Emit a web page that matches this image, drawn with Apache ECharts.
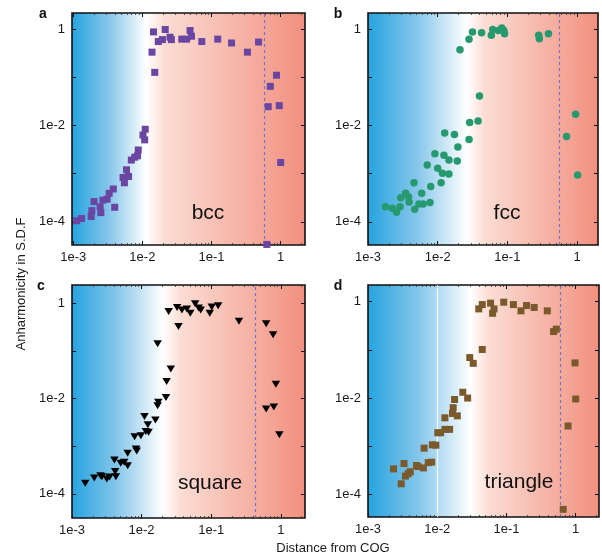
<!DOCTYPE html>
<html>
<head>
<meta charset="utf-8">
<script src="https://cdn.jsdelivr.net/npm/echarts@6/dist/echarts.min.js"></script>
<style>
  html, body { margin: 0; padding: 0; background: #fff; }
  #chart { width: 602px; height: 558px; }
</style>
</head>
<body>
<div id="chart"></div>
<script>
// ---- data (log-log panels) ----
const bccX = [1.12e-3,1.32e-3,1.82e-3,1.86e-3,2.0e-3,2.45e-3,2.51e-3,2.69e-3,3.09e-3,3.31e-3,3.80e-3,3.98e-3,5.25e-3,5.50e-3,5.89e-3,6.31e-3,6.92e-3,7.76e-3,8.51e-3,8.71e-3,1.02e-2,1.10e-2,1.08e-2,1.38e-2,1.45e-2,1.51e-2,1.70e-2,1.95e-2,2.14e-2,2.51e-2,2.63e-2,3.72e-2,4.37e-2,4.90e-2,5.13e-2,7.24e-2,0.123,0.195,0.331,0.479,0.631,0.661,0.708,0.871,0.955,1.0];
const bccY = [1.05e-4,1.17e-4,1.29e-4,1.70e-4,2.63e-4,2.04e-4,1.55e-4,2.82e-4,2.95e-4,3.89e-4,4.79e-4,2.0e-4,8.32e-4,6.46e-4,1.20e-3,8.71e-4,1.91e-3,2.19e-3,2.34e-3,3.09e-3,6.31e-3,8.32e-3,5.01e-3,0.331,0.871,0.126,0.550,0.603,0.977,0.676,0.603,0.617,0.617,0.933,0.708,0.550,0.617,0.513,0.331,0.537,3.39e-5,2.45e-2,6.46e-2,0.110,2.57e-2,1.70e-3];

const fccX = [1.78e-3,2.24e-3,2.57e-3,2.88e-3,2.95e-3,3.47e-3,3.80e-3,3.89e-3,4.68e-3,4.57e-3,5.37e-3,5.89e-3,6.17e-3,7.08e-3,7.76e-3,7.94e-3,9.12e-3,1.0e-2,1.12e-2,1.17e-2,1.23e-2,1.26e-2,1.45e-2,1.45e-2,1.74e-2,1.91e-2,1.95e-2,2.09e-2,2.82e-2,2.88e-2,2.82e-2,3.16e-2,3.80e-2,3.98e-2,4.27e-2,5.89e-2,6.17e-2,7.41e-2,8.32e-2,8.91e-2,9.12e-2,0.282,0.288,0.389,0.708,0.955,1.02];
const fccY = [2.04e-4,1.91e-4,1.58e-4,2.04e-4,3.16e-4,3.89e-4,3.31e-4,2.57e-4,1.82e-4,6.46e-4,2.34e-4,3.89e-4,2.34e-4,1.51e-3,2.51e-4,5.37e-4,2.57e-3,1.29e-3,6.46e-4,1.02e-3,2.40e-3,6.92e-3,1.91e-3,9.77e-4,6.46e-3,1.82e-3,3.55e-3,0.372,5.13e-3,1.15e-2,0.617,0.871,1.23e-2,4.07e-2,0.832,0.741,0.977,0.933,1.05,0.933,0.794,0.741,0.631,0.794,5.89e-3,1.70e-2,9.33e-4];

const squareX = [1.55e-3,2.09e-3,2.57e-3,2.69e-3,3.16e-3,3.47e-3,4.07e-3,4.17e-3,4.27e-3,5.01e-3,5.62e-3,6.31e-3,6.31e-3,7.94e-3,8.32e-3,8.51e-3,9.77e-3,1.10e-2,1.15e-2,1.23e-2,1.26e-2,1.58e-2,1.70e-2,1.70e-2,1.74e-2,2.24e-2,2.29e-2,2.63e-2,2.45e-2,3.24e-2,3.39e-2,3.80e-2,4.47e-2,5.01e-2,5.89e-2,6.61e-2,7.08e-2,9.55e-2,0.102,0.126,0.251,0.617,0.776,0.617,0.794,0.851,0.955];
const squareY = [1.66e-4,2.14e-4,2.40e-4,2.29e-4,2.04e-4,2.24e-4,5.13e-4,2.95e-4,2.29e-4,4.37e-4,4.57e-4,7.08e-4,3.89e-4,1.58e-3,8.71e-4,7.94e-4,1.66e-3,4.17e-3,2.04e-3,2.82e-3,1.95e-3,3.55e-3,0.141,7.08e-3,8.32e-3,1.05e-2,2.29e-2,4.17e-2,0.676,0.813,0.324,0.724,0.759,0.617,0.977,0.794,0.724,0.617,0.832,0.891,0.417,0.372,0.219,6.03e-3,6.61e-3,2.0e-2,1.74e-3];

const triangleX = [2.34e-3,3.02e-3,3.31e-3,3.47e-3,3.80e-3,4.07e-3,5.01e-3,5.25e-3,6.31e-3,6.46e-3,7.41e-3,8.32e-3,8.51e-3,9.55e-3,1.02e-2,1.12e-2,1.29e-2,1.51e-2,1.29e-2,1.66e-2,1.70e-2,1.78e-2,1.95e-2,2.34e-2,2.75e-2,2.95e-2,3.31e-2,3.98e-2,4.47e-2,4.47e-2,5.89e-2,6.31e-2,6.61e-2,9.12e-2,0.126,0.162,0.195,0.251,0.389,0.479,0.525,0.661,0.776,0.977,1.0];
const triangleY = [3.39e-4,1.66e-4,4.37e-4,2.40e-4,2.69e-4,2.95e-4,3.98e-4,3.80e-4,3.55e-4,9.12e-4,4.57e-4,4.68e-4,1.07e-3,1.05e-3,1.91e-3,1.91e-3,2.24e-3,2.24e-3,3.89e-3,4.79e-3,6.31e-3,9.33e-3,4.27e-3,1.32e-2,1.0e-2,6.92e-2,5.25e-2,0.708,0.871,0.102,0.933,0.575,0.708,0.977,0.871,0.646,0.832,0.759,0.646,0.240,0.269,4.90e-5,2.63e-3,5.37e-2,9.55e-3];

// dashed marker position per panel
const dashX = [0.58, 0.545, 0.43, 0.59];

// ticks
const xMajor = [1e-3, 1e-2, 1e-1, 1];
const xMajorLabels = ['1e-3', '1e-2', '1e-1', '1'];
const xMinor = [2e-3,3e-3,4e-3,5e-3,6e-3,7e-3,8e-3,9e-3,2e-2,3e-2,4e-2,5e-2,6e-2,7e-2,8e-2,9e-2,0.2,0.3,0.4,0.5,0.6,0.7,0.8,0.9,2];
const yMajor = [1e-4, 1e-3, 1e-2, 1e-1, 1];
const yLabelValues = [1e-4, 1e-2, 1];
const yLabels = ['1e-4', '1e-2', '1'];

const FONT = '"Liberation Sans", Arial, Helvetica, sans-serif';

const panels = [
  { name: 'bcc', letter: 'a', xs: bccX, ys: bccY, symbol: 'rect', size: 7, color: '#6a45a2',
    grid: { left: 72, top: 13, width: 233, height: 232 }, xMin: 9.6e-4, xMax: 2.25, yMin: 3.3e-5, yMax: 2.15,
    white: 0.32, label: [208, 213], letterPos: [43, 14] },
  { name: 'fcc', letter: 'b', xs: fccX, ys: fccY, symbol: 'circle', size: 7.5, color: '#27996f',
    grid: { left: 368, top: 13, width: 230, height: 232 }, xMin: 1e-3, xMax: 2.0, yMin: 3.3e-5, yMax: 2.15,
    white: 0.43, label: [507, 213], letterPos: [338, 14] },
  { name: 'square', letter: 'c', xs: squareX, ys: squareY, symbol: 'triangle', size: [8.5, 7], color: '#000000', rotate: 180,
    grid: { left: 72, top: 285, width: 233, height: 233 }, xMin: 1e-3, xMax: 2.23, yMin: 3.1e-5, yMax: 2.42,
    white: 0.39, label: [210, 483], letterPos: [41, 286] },
  { name: 'triangle', letter: 'd', xs: triangleX, ys: triangleY, symbol: 'rect', size: 7, color: '#7a5a2c',
    grid: { left: 368, top: 285, width: 231, height: 232 }, xMin: 1e-3, xMax: 2.17, yMin: 3.4e-5, yMax: 2.22,
    white: 0.445, label: [519, 482], letterPos: [338, 286], whiteLine: 0.0117 }
];

function labelFor(values, labels) {
  return function (v) {
    const i = values.findIndex(t => Math.abs(Math.log10(t) - Math.log10(v)) < 0.01);
    return i >= 0 ? labels[i] : '';
  };
}

function baseAxis(gridIndex, position, min, max) {
  return {
    type: 'log', logBase: 10, gridIndex, position, min, max,
    axisLine: { show: false }, splitLine: { show: false }, minorTick: { show: false },
    axisTick: { show: false }, axisLabel: { show: false }
  };
}

const grids = [], xAxes = [], yAxes = [], series = [], graphics = [];

panels.forEach((p, i) => {
  grids.push(Object.assign({}, p.grid, {
    show: true, borderWidth: 1.6, borderColor: '#111',
    backgroundColor: {
      type: 'linear', x: 0, y: 0, x2: 1, y2: 0,
      colorStops: [
        { offset: 0, color: '#24a3df' },
        { offset: p.white * 0.5, color: '#86c6ea' },
        { offset: p.white, color: '#ffffff' },
        { offset: p.white + 0.08, color: '#fbdcd3' },
        { offset: 1, color: '#f28f7e' }
      ]
    }
  }));

  const xMainIdx = xAxes.length;
  // bottom: labels + major ticks
  xAxes.push(Object.assign(baseAxis(i, 'bottom', p.xMin, p.xMax), {
    axisTick: { show: true, inside: true, length: 4, lineStyle: { color: '#111', width: 1 }, customValues: xMajor },
    axisLabel: { show: true, customValues: xMajor, formatter: labelFor(xMajor, xMajorLabels),
      fontSize: 13, color: '#1a1a1a', fontFamily: FONT, margin: 6 }
  }));
  // bottom minor ticks
  xAxes.push(Object.assign(baseAxis(i, 'bottom', p.xMin, p.xMax), {
    axisTick: { show: true, inside: true, length: 2, lineStyle: { color: '#333', width: 0.8 }, customValues: xMinor }
  }));
  // top mirror
  xAxes.push(Object.assign(baseAxis(i, 'top', p.xMin, p.xMax), {
    axisTick: { show: true, inside: true, length: 4, lineStyle: { color: '#111', width: 1 }, customValues: xMajor }
  }));
  xAxes.push(Object.assign(baseAxis(i, 'top', p.xMin, p.xMax), {
    axisTick: { show: true, inside: true, length: 2, lineStyle: { color: '#333', width: 0.8 }, customValues: xMinor }
  }));

  const yMainIdx = yAxes.length;
  yAxes.push(Object.assign(baseAxis(i, 'left', p.yMin, p.yMax), {
    axisTick: { show: true, inside: true, length: 4, lineStyle: { color: '#111', width: 1 }, customValues: yMajor },
    axisLabel: { show: true, customValues: yLabelValues, formatter: labelFor(yLabelValues, yLabels),
      fontSize: 13, color: '#1a1a1a', fontFamily: FONT, margin: 7 }
  }));
  yAxes.push(Object.assign(baseAxis(i, 'right', p.yMin, p.yMax), {
    axisTick: { show: true, inside: true, length: 4, lineStyle: { color: '#111', width: 1 }, customValues: yMajor }
  }));

  const lines = [{ xAxis: dashX[i], lineStyle: { color: '#5368d8', type: [3, 3], width: 1.2, opacity: 0.8 } }];
  if (p.whiteLine) {
    lines.push({ xAxis: p.whiteLine, lineStyle: { color: '#ffffff', type: 'solid', width: 1.2, opacity: 0.85 } });
  }

  series.push({
    name: p.name,
    type: 'scatter',
    xAxisIndex: xMainIdx,
    yAxisIndex: yMainIdx,
    symbol: p.symbol,
    symbolSize: p.size,
    symbolRotate: p.rotate || 0,
    itemStyle: { color: p.color, opacity: 1 },
    data: p.xs.map((x, k) => [x, p.ys[k]]),
    markLine: {
      silent: true, symbol: 'none', z: 1, animation: false,
      label: { show: false },
      data: lines
    }
  });

  graphics.push({
    type: 'text', x: p.letterPos[0], y: p.letterPos[1],
    style: { text: p.letter, font: 'bold 14px ' + FONT, fill: '#111',
      textAlign: 'center', textVerticalAlign: 'middle' }
  });
  graphics.push({
    type: 'text', x: p.label[0], y: p.label[1], z: 10,
    style: { text: p.name, font: '21px ' + FONT, fill: '#111', textAlign: 'center', textVerticalAlign: 'middle' }
  });
});

graphics.push({
  type: 'text', x: 21, y: 284, rotation: Math.PI / 2,
  style: { text: 'Anharmonicity in S.D.F', font: '13px ' + FONT, fill: '#1a1a1a',
    textAlign: 'center', textVerticalAlign: 'middle' }
});
graphics.push({
  type: 'text', x: 333, y: 548,
  style: { text: 'Distance from COG', font: '13px ' + FONT, fill: '#1a1a1a',
    textAlign: 'center', textVerticalAlign: 'middle' }
});

const chart = echarts.init(document.getElementById('chart'));
chart.setOption({
  animation: false,
  backgroundColor: '#ffffff',
  grid: grids,
  xAxis: xAxes,
  yAxis: yAxes,
  series: series,
  graphic: graphics
});

window.addEventListener('resize', () => chart.resize());
</script>
</body>
</html>
